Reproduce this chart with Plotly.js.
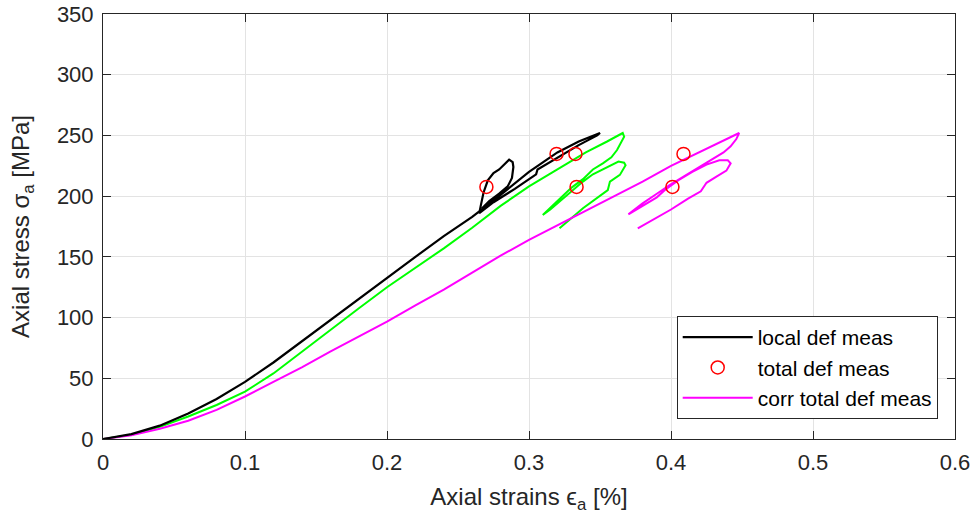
<!DOCTYPE html>
<html>
<head>
<meta charset="utf-8">
<script src="https://cdn.plot.ly/plotly-3.0.1.min.js"></script>
<style>html,body{margin:0;padding:0;background:#fff;}#chart{width:978px;height:525px;}</style>
</head>
<body>
<div id="chart"></div>
<script>
// local def meas (black)
const localX = [0,0.02,0.04,0.06,0.08,0.10,0.12,0.14,0.16,0.18,0.20,0.22,0.24,0.26,0.28,0.30,0.32,0.335,0.35,
  0.348,0.335,0.32,0.306,0.305,0.29,0.275,0.265,
  0.266,0.268,0.271,0.275,0.279,0.283,0.286,0.2885,0.289,0.288,0.285,0.279,0.272,0.267];
const localY = [0,4,11,21,33,47,63,80.5,98,115.5,132.5,150,167,183,201,220,236,245,252,
  250,242,232,222,218,206,195,186,
  192,203,213,219,222,227,230,228,224,215,208,202,196,190];

// total def meas raw (green, not in legend)
const totalX = [0,0.02,0.04,0.06,0.08,0.10,0.12,0.14,0.16,0.18,0.20,0.22,0.24,0.26,0.28,0.30,0.32,0.34,0.355,0.366,
  0.367,0.365,0.362,0.358,0.352,0.345,0.338,0.33,0.322,0.315,0.3097,
  0.315,0.322,0.33,0.338,0.345,0.352,0.358,0.363,0.367,0.368,0.364,0.357,0.3555,0.347,0.338,0.33,0.3215];
const totalY = [0,3.5,10,18.5,28,39,54,72,90,107.5,125,141,157,174,192,208,222,236,245,252,
  249,245,238,232,227,222,214,207,198,190,184.5,
  189,196,204,212,218,222,226,228.5,227.5,225.5,217.5,212,205,198,190,182,173.5];

// total def meas markers (red circles)
const markX = [0.27,0.3194,0.3327,0.3335,0.4088,0.401];
const markY = [207.6,234.8,234.8,207.6,234.8,207.6];

// corr total def meas (magenta)
const corrX = [0,0.02,0.04,0.06,0.08,0.10,0.12,0.14,0.16,0.18,0.20,0.22,0.24,0.26,0.28,0.30,0.32,0.34,0.36,0.38,0.40,0.42,0.435,0.448,
  0.446,0.442,0.437,0.43,0.423,0.415,0.407,0.399,0.39,0.38,0.37,
  0.38,0.39,0.3967,0.405,0.415,0.425,0.434,0.44,0.442,0.439,0.432,0.425,0.421,0.412,0.40,0.388,0.3766];
const corrY = [0,3,8.5,15,24,35,47,59,72,84,96.6,110,123,137,151,164,176,188,200,212,225,236,244.5,252,
  247,241,236,231,226,221,215,209,202,194,185,
  192,199,206,213,220,226,229.5,229.5,227,221,216,211,204,198,189,181,173.5];

const xTicks = [0,0.1,0.2,0.3,0.4,0.5,0.6];
const xTickText = ['0','0.1','0.2','0.3','0.4','0.5','0.6'];
const yTicks = [0,50,100,150,200,250,300,350];

const FONT = 'Arial, "Liberation Sans", Helvetica, sans-serif';
const AX = '#262626';

const traces = [
  {x: totalX, y: totalY, mode: 'lines', line: {color: '#00ff00', width: 2}, showlegend: false, hoverinfo: 'skip'},
  {x: corrX, y: corrY, mode: 'lines', name: 'corr total def meas', line: {color: '#ff00ff', width: 2}, legendrank: 3},
  {x: localX, y: localY, mode: 'lines', name: 'local def meas', line: {color: '#000000', width: 2.2}, legendrank: 1},
  {x: markX, y: markY, mode: 'markers', name: 'total def meas', marker: {symbol: 'circle-open', size: 13, color: '#ff0000', line: {width: 1.5, color: '#ff0000'}}, legendrank: 2}
];

const axisCommon = {
  showline: true, linecolor: AX, linewidth: 1, mirror: 'ticks',
  ticks: 'inside', ticklen: 8, tickcolor: AX, tickwidth: 1,
  showgrid: true, gridcolor: '#e3e3e3', gridwidth: 1,
  zeroline: false,
  tickfont: {family: FONT, size: 22, color: AX},
};

const layout = {
  width: 978, height: 525,
  margin: {l: 103, r: 23, t: 14, b: 86},
  paper_bgcolor: '#ffffff', plot_bgcolor: '#ffffff',
  font: {family: FONT, color: AX},
  showlegend: true,
  xaxis: Object.assign({}, axisCommon, {
    range: [0, 0.6], tickvals: xTicks, ticktext: xTickText,
    ticklabelstandoff: 4,
    title: {text: 'Axial strains ϵ<sub>a</sub> [%]', font: {family: FONT, size: 24, color: AX}, standoff: 13}
  }),
  yaxis: Object.assign({}, axisCommon, {
    range: [0, 350], tickvals: yTicks,
    ticklabelstandoff: 4,
    title: {text: 'Axial stress σ<sub>a</sub> [MPa]', font: {family: FONT, size: 24, color: AX}, standoff: 20}
  }),
  legend: {
    x: 0.9797, y: 0.047, xanchor: 'right', yanchor: 'bottom',
    bgcolor: '#ffffff', bordercolor: AX, borderwidth: 1,
    font: {family: FONT, size: 21, color: '#000000'},
    traceorder: 'normal', itemwidth: 70
  }
};

Plotly.newPlot('chart', traces, layout, {displayModeBar: false, staticPlot: true});
</script>
</body>
</html>
